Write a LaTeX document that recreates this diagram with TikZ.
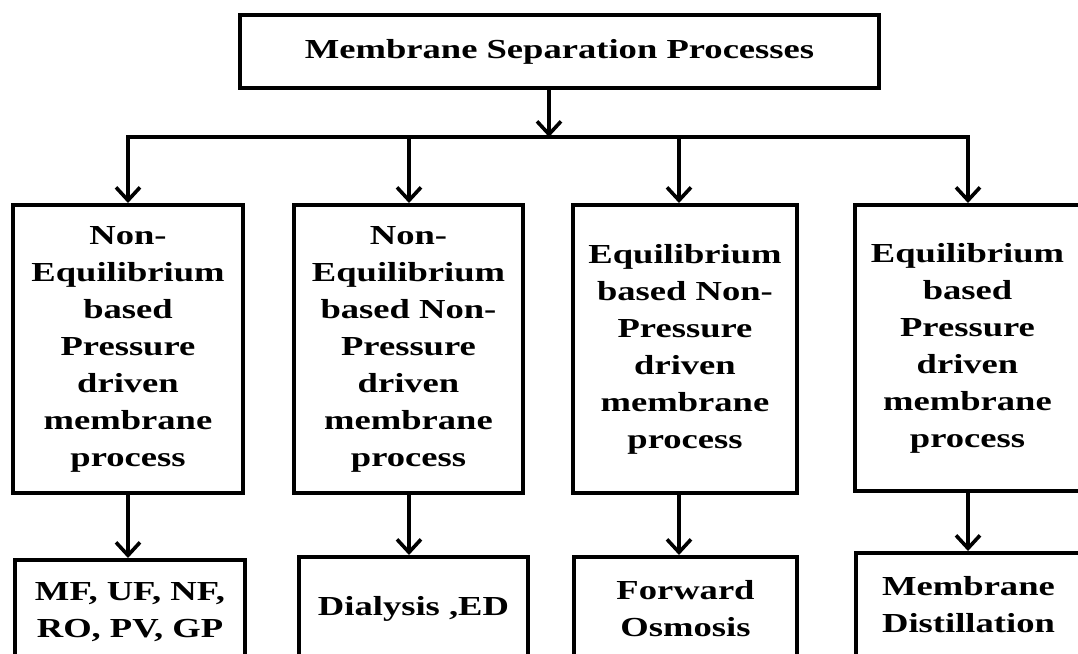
\documentclass[tikz,border=0pt]{standalone}
\usepackage{fontspec}
\setmainfont{Liberation Serif}[FakeStretch=1.33]
\usetikzlibrary{arrows.meta}
\begin{document}
\begin{tikzpicture}[x=1pt,y=-1pt,
  box/.style={draw=black,line width=4pt,fill=white,align=center,inner sep=0pt,
    font=\fontsize{27.5}{37}\selectfont\bfseries},
  conn/.style={line width=3.6pt,-{Straight Barb[length=13pt,width=24pt,line width=3.6pt]}},
  plain/.style={line width=3.6pt,line cap=rect}]
\useasboundingbox (0,0) rectangle (1078,653);
\clip (0,0) rectangle (1078,653);
\fill[white] (0,0) rectangle (1078,653);
% top
\node[box,minimum width=639pt,minimum height=73pt] (top) at (559.5,51.5) {Membrane Separation Processes};
% middle level
\node[box,minimum width=230pt,minimum height=288pt] (m1) at (128,349) {Non-\\Equilibrium\\based\\Pressure\\driven\\membrane\\process};
\node[box,minimum width=229pt,minimum height=288pt] (m2) at (408.5,349) {Non-\\Equilibrium\\based Non-\\Pressure\\driven\\membrane\\process};
\node[box,minimum width=224pt,minimum height=288pt] (m3) at (685,349) {Equilibrium\\based Non-\\Pressure\\driven\\membrane\\process};
\node[box,minimum width=225pt,minimum height=286pt] (m4) at (967.5,348) {Equilibrium\\based\\Pressure\\driven\\membrane\\process};
% bottom level
\node[box,minimum width=230pt,minimum height=104pt] (b1) at (130,612) {MF, UF, NF,\\RO, PV, GP};
\node[box,minimum width=229pt,minimum height=104pt] (b2) at (413.5,609) {Dialysis ,ED};
\node[box,minimum width=223pt,minimum height=104pt] (b3) at (685.5,609) {Forward\\Osmosis};
\node[box,minimum width=225pt,minimum height=104pt] (b4) at (968.5,605) {Membrane\\Distillation};
% bus
\coordinate (bus) at (549,137);
\coordinate (busL) at (128,137);
\coordinate (busR) at (968,137);
\coordinate (c2) at (409,137);
\coordinate (c3) at (679,137);
\draw[plain] (busL) -- (busR);
\draw[conn] (top.south -| bus) -- (bus);
\draw[conn] (busL) -- (busL |- m1.north);
\draw[conn] (c2) -- (c2 |- m2.north);
\draw[conn] (c3) -- (c3 |- m3.north);
\draw[conn] (busR) -- (busR |- m4.north);
\draw[conn] (m1.south -| busL) -- (busL |- b1.north);
\draw[conn] (m2.south -| c2) -- (c2 |- b2.north);
\draw[conn] (m3.south -| c3) -- (c3 |- b3.north);
\draw[conn] (m4.south -| busR) -- (busR |- b4.north);
\end{tikzpicture}
\end{document}
